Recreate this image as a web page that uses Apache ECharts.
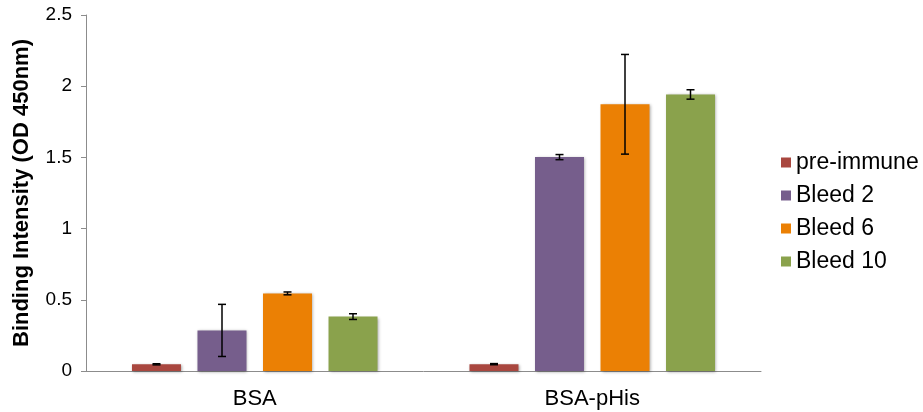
<!DOCTYPE html>
<html>
<head>
<meta charset="utf-8">
<script src="https://cdn.jsdelivr.net/npm/echarts@6/dist/echarts.min.js"></script>
<style>html,body{margin:0;padding:0;background:#fff;}#c{width:923px;height:412px;}</style>
</head>
<body>
<div id="c"></div>
<script>
var categories = ['BSA', 'BSA-pHis'];
var seriesNames = ['pre-immune', 'Bleed 2', 'Bleed 6', 'Bleed 10'];
var preImmune = [0.047, 0.048];
var bleed2 = [0.285, 1.502];
var bleed6 = [0.545, 1.873];
var bleed10 = [0.382, 1.942];
var preImmuneErr = [0.004, 0.004];
var bleed2Err = [0.183, 0.018];
var bleed6Err = [0.010, 0.350];
var bleed10Err = [0.020, 0.033];
var yTicks = [0, 0.5, 1, 1.5, 2, 2.5];

var colors = ['#A9473F', '#765E8C', '#EB8004', '#8AA24C'];
var values = [preImmune, bleed2, bleed6, bleed10];
var errs = [preImmuneErr, bleed2Err, bleed6Err, bleed10Err];

var BAR_W = 49, GAP_PX = 16.5;
var FONT = '"Liberation Sans", Arial, Helvetica, sans-serif';

var series = [];
values.forEach(function (vals, i) {
  series.push({
    name: seriesNames[i],
    type: 'bar',
    data: vals,
    barWidth: BAR_W,
    barGap: (GAP_PX / BAR_W * 100).toFixed(1) + '%',
    itemStyle: {
      color: colors[i],
      shadowColor: 'rgba(0,0,0,0.35)',
      shadowBlur: 3,
      shadowOffsetX: 1,
      shadowOffsetY: 1
    },
    z: 2
  });
});
values.forEach(function (vals, i) {
  var data = vals.map(function (v, k) { return [k, v, errs[i][k]]; });
  series.push({
    type: 'custom',
    name: seriesNames[i] + ' err',
    data: data,
    z: 5,
    silent: true,
    renderItem: function (params, api) {
      var k = api.value(0), v = api.value(1), e = api.value(2);
      var off = (i - 1.5) * (BAR_W + GAP_PX);
      var top = api.coord([k, v + e]);
      var bot = api.coord([k, v - e]);
      var x = top[0] + off;
      var cap = 4;
      var st = { stroke: '#000', lineWidth: 1.5 };
      return {
        type: 'group',
        children: [
          { type: 'line', shape: { x1: x, y1: top[1], x2: x, y2: bot[1] }, style: st },
          { type: 'line', shape: { x1: x - cap, y1: top[1], x2: x + cap, y2: top[1] }, style: st },
          { type: 'line', shape: { x1: x - cap, y1: bot[1], x2: x + cap, y2: bot[1] }, style: st }
        ]
      };
    }
  });
});

var chart = echarts.init(document.getElementById('c'));
chart.setOption({
  animation: false,
  backgroundColor: '#fff',
  textStyle: { fontFamily: FONT },
  grid: { left: 86, right: 162, top: 15, bottom: 41, containLabel: false },
  legend: {
    data: seriesNames,
    orient: 'vertical',
    left: 776,
    top: 146,
    itemWidth: 10,
    itemHeight: 10,
    itemGap: 10,
    icon: 'rect',
    textStyle: { fontSize: 23, color: '#000', fontFamily: FONT, padding: [0, 0, 0, 0] }
  },
  xAxis: {
    type: 'category',
    data: categories,
    axisLine: { lineStyle: { color: '#8C8C8C', width: 1 } },
    axisTick: { show: false },
    axisLabel: { fontSize: 22, color: '#000', margin: 17, fontFamily: FONT }
  },
  yAxis: {
    type: 'value',
    min: 0,
    max: 2.5,
    interval: 0.5,
    name: 'Binding Intensity (OD 450nm)',
    nameLocation: 'middle',
    nameGap: 53,
    nameTextStyle: { fontSize: 22, fontWeight: 'bold', color: '#000', fontFamily: FONT },
    axisLine: { show: true, lineStyle: { color: '#8C8C8C', width: 1 } },
    axisTick: { show: true, length: 5, lineStyle: { color: '#8C8C8C' } },
    splitLine: { show: false },
    axisLabel: {
      fontSize: 19, color: '#000', margin: 14, fontFamily: FONT,
      formatter: function (v) { return yTicks.indexOf(v) >= 0 ? String(v) : ''; }
    }
  },
  series: series
});
</script>
</body>
</html>
